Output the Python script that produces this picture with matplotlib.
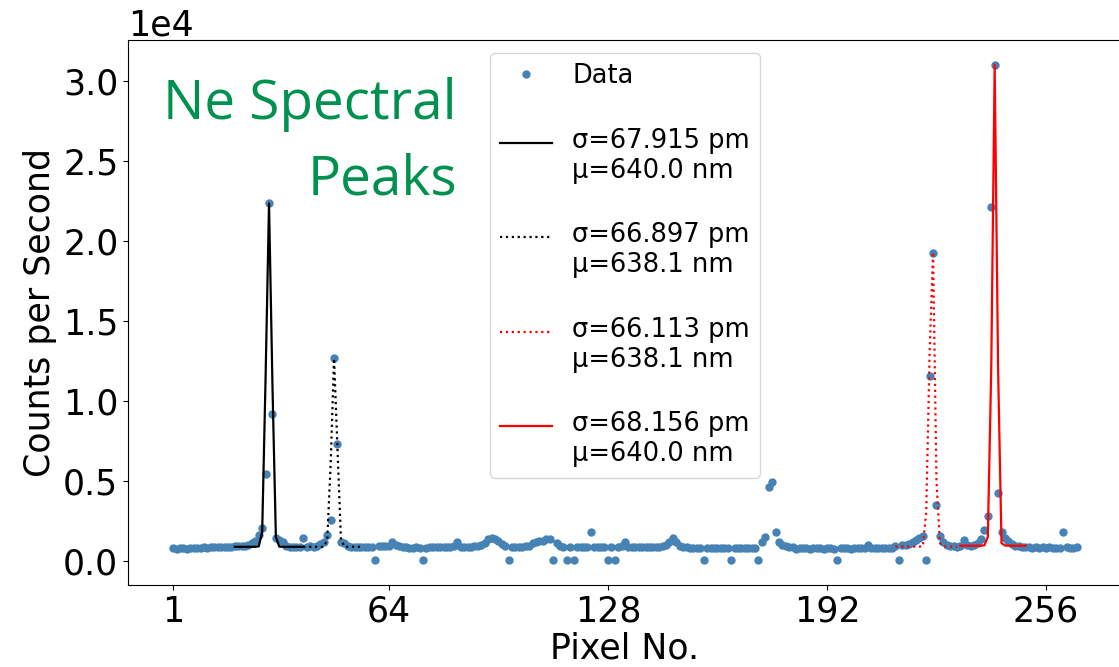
import numpy as np
import matplotlib
matplotlib.use("Agg")
import matplotlib.pyplot as plt
from matplotlib.legend_handler import HandlerLine2D

# measured counts per CCD pixel
pixels = np.arange(1, 266)
counts = [
    770, 760, 780, 770, 760, 780, 770, 790, 810, 830,
    820, 850, 840, 860, 850, 870, 860, 880, 900, 900,
    920, 950, 1000, 1100, 1250, 1600, 2020, 5400, 22350, 9200,
    1450, 1310, 1150, 900, 870, 870, 880, 880, 1400, 880,
    900, 880, 950, 1040, 1150, 1600, 2560, 12650, 7290, 1190,
    1085, 900, 850, 830, 840, 850, 840, 860, 850, 40,
    900, 920, 900, 940, 1150, 1000, 900, 850, 830, 820,
    800, 830, 800, 40, 820, 830, 840, 850, 860, 850,
    840, 870, 900, 1150, 880, 860, 870, 880, 900, 950,
    1000, 1100, 1350, 1400, 1380, 1250, 1050, 950, 30, 850,
    860, 860, 880, 900, 920, 1100, 1200, 1250, 1250, 1360,
    1360, 30, 1085, 950, 880, 30, 850, 30, 880, 870,
    860, 880, 1775, 880, 870, 880, 860, 30, 850, 30,
    870, 900, 1150, 870, 850, 840, 850, 840, 850, 840,
    850, 860, 870, 900, 1000, 1200, 1400, 1150, 950, 880,
    840, 820, 800, 780, 790, 40, 790, 800, 810, 800,
    810, 800, 790, 40, 800, 810, 800, 800, 810, 820,
    800, 40, 1150, 1460, 4590, 4900, 1820, 1180, 1000, 950,
    880, 830, 760, 770, 780, 770, 760, 770, 780, 770,
    760, 780, 770, 760, 40, 770, 780, 770, 760, 780,
    770, 780, 800, 980, 790, 780, 770, 790, 800, 810,
    820, 900, 40, 980, 980, 1050, 1150, 1300, 1450, 1540,
    40, 11540, 19230, 3500, 1525, 1200, 1000, 950, 900, 850,
    950, 1290, 1000, 950, 1000, 1100, 1356, 1940, 2775, 22150,
    31025, 4230, 1820, 1450, 1250, 1040, 950, 900, 850, 830,
    830, 820, 830, 820, 830, 820, 830, 820, 820, 820,
    1810, 830, 800, 820, 830,
]

# gaussian fits, sampled on pixels
fit1_x = np.arange(19, 40)
fit1_y = [870, 870, 870, 870, 870, 870, 870, 900, 1800, 11500,
          22350, 11000, 1500, 880, 870, 870, 870, 870, 870, 870, 870]
fit2_x = np.arange(39, 57)
fit2_y = [870, 870, 870, 870, 870, 870, 870, 1300, 6000, 12650,
          7000, 1400, 880, 870, 870, 870, 870, 870]
fit3_x = np.arange(212, 231)
fit3_y = [880, 880, 880, 880, 880, 880, 880, 880, 900, 3000,
          13000, 19300, 5000, 1100, 900, 880, 880, 880, 880]
fit4_x = np.arange(231, 251)
fit4_y = [940, 940, 940, 940, 940, 940, 940, 960, 1500, 12000,
          31025, 12000, 1100, 950, 940, 940, 940, 940, 940, 940]

fit_labels = ["σ=67.915 pm\nμ=640.0 nm", "σ=66.897 pm\nμ=638.1 nm",
              "σ=66.113 pm\nμ=638.1 nm", "σ=68.156 pm\nμ=640.0 nm"]


# put the legend line next to the first line of a two-line label
class FirstLineHandler(HandlerLine2D):
    def create_artists(self, legend, orig_handle, xdescent, ydescent,
                       width, height, fontsize, trans):
        return super().create_artists(legend, orig_handle, xdescent,
                                      ydescent - 1.1 * fontsize, width,
                                      height, fontsize, trans)


fig = plt.figure(figsize=(11.19, 6.67), dpi=100)
ax = fig.add_axes([128 / 1119, 82 / 667, 994 / 1119, 545 / 667])

ax.plot(pixels, counts, "o", color="steelblue", ms=5, label="Data")
l1, = ax.plot(fit1_x, fit1_y, "-", color="black", lw=1.6, label=fit_labels[0])
l2, = ax.plot(fit2_x, fit2_y, ":", color="black", lw=1.6, label=fit_labels[1])
l3, = ax.plot(fit3_x, fit3_y, ":", color="red", lw=1.6, label=fit_labels[2])
l4, = ax.plot(fit4_x, fit4_y, "-", color="red", lw=1.6, label=fit_labels[3])

ax.set_xticks([1, 64, 128, 192, 256])
ax.ticklabel_format(axis="y", style="sci", scilimits=(4, 4))
ax.tick_params(labelsize=25)
ax.yaxis.get_offset_text().set_fontsize(25)
ax.set_xlabel("Pixel No.", fontsize=25, labelpad=2)
ax.set_ylabel("Counts per Second", fontsize=25)

hmap = {l: FirstLineHandler() for l in (l1, l2, l3, l4)}
ax.legend(loc="upper center", fontsize=18.5, labelspacing=1.5, handler_map=hmap)

fig.text(457 / 1119, 1 - 77 / 667, "Ne Spectral\nPeaks", ha="right", va="top",
         multialignment="right", fontsize=39.5, color="#00914F", family="Open Sans",
         linespacing=1.48)

fig.savefig("out.png", dpi=100)
